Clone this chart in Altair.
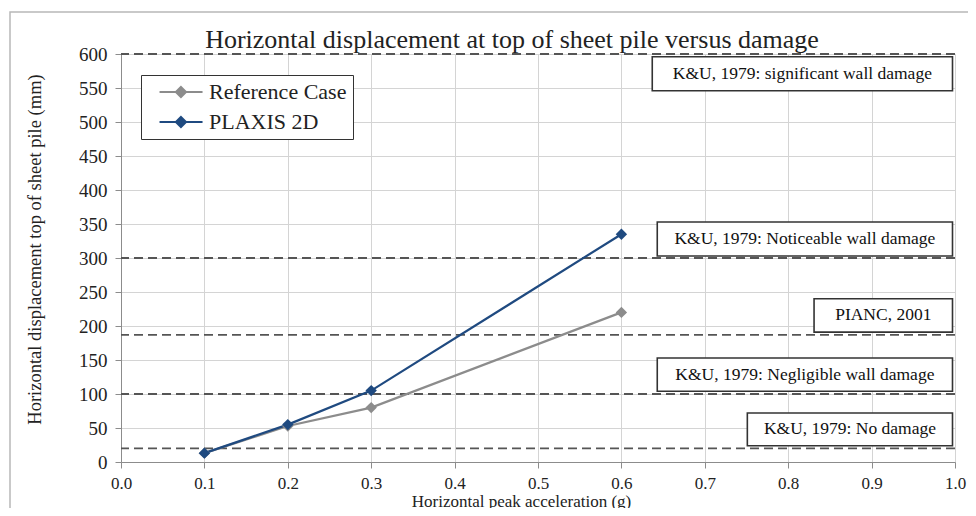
import altair as alt
import pandas as pd

# ---- data ----
accel = [0.1, 0.2, 0.3, 0.6]
reference_case = [13, 53, 80, 220]
plaxis_2d = [13, 55, 105, 335]
series_names = ["Reference Case", "PLAXIS 2D"]
series_colors = ["#8c8c8c", "#1f4a80"]

threshold_values = [600, 300, 187, 100, 20]

ann_labels = [
    "K&U, 1979: significant wall damage",
    "K&U, 1979: Noticeable wall damage",
    "PIANC, 2001",
    "K&U, 1979: Negligible  wall damage",
    "K&U, 1979: No damage",
]
ann_x_left = [0.637, 0.643, 0.831, 0.643, 0.751]
ann_x_right = [0.997, 0.997, 0.997, 0.997, 0.997]
ann_y_top = [596, 353, 240, 153, 72]
ann_y_bottom = [546, 303, 191, 104, 24]

x_ticks = [round(i * 0.1, 1) for i in range(11)]
y_ticks = list(range(0, 601, 50))

# ---- tables ----
rows = []
for name, vals in zip(series_names, [reference_case, plaxis_2d]):
    for a, v in zip(accel, vals):
        rows.append({"series": name, "x": a, "y": v})
df = pd.DataFrame(rows)
df_thr = pd.DataFrame({"y": threshold_values})
df_ann = pd.DataFrame({
    "label": ann_labels,
    "x1": ann_x_left, "x2": ann_x_right,
    "y1": ann_y_top, "y2": ann_y_bottom,
})
df_ann["xm"] = (df_ann["x1"] + df_ann["x2"]) / 2
df_ann["ym"] = (df_ann["y1"] + df_ann["y2"]) / 2

FONT = "Liberation Serif"

xscale = alt.Scale(domain=[0, 1], nice=False, zero=False)
yscale = alt.Scale(domain=[0, 600], nice=False)

x_axis = alt.Axis(
    values=x_ticks, format=".1f", title="Horizontal peak acceleration (g)",
    grid=True, gridColor="#d4d4d4", gridWidth=1,
    domainColor="#8c8c8c", tickColor="#8c8c8c", tickSize=6,
    labelFont=FONT, labelFontSize=17, labelColor="#222", labelPadding=7,
    labelOverlap=False,
    titleFont=FONT, titleFontSize=17, titleFontWeight="normal", titleColor="#222",
    titleY=31, titleX=400, labelFlush=False,
)
y_axis = alt.Axis(
    values=y_ticks, title="Horizontal displacement top of sheet pile (mm)",
    grid=True, gridColor="#d4d4d4", gridWidth=1,
    domainColor="#8c8c8c", tickColor="#8c8c8c", tickSize=6,
    labelFont=FONT, labelFontSize=19, labelColor="#222", labelPadding=8,
    labelOverlap=False,
    titleFont=FONT, titleFontSize=18.5, titleFontWeight="normal", titleColor="#222",
    titleY=195, titleX=-77, labelFlush=False,
)

color_scale = alt.Scale(domain=series_names, range=series_colors)

legend = alt.Legend(
    title=None, orient="none", legendX=20, legendY=21,
    strokeColor="#333", fillColor="white", padding=6,
    labelFont=FONT, labelFontSize=22, labelColor="#222",
    symbolType="M0.18,0L5.24,0M2.7,-0.6L3.3,0L2.7,0.6L2.1,0Z",
    symbolSize=289, symbolStrokeWidth=2, rowPadding=8, labelOffset=40,
)

# decorative outer frame
frame = alt.Chart(pd.DataFrame({"a": [0]})).mark_rect(
    fill=None, stroke="#b8b8b8", strokeWidth=1.5
).encode(
    x=alt.value(-111), x2=alt.value(880), y=alt.value(-42), y2=alt.value(480)
)

thr = alt.Chart(df_thr).mark_rule(
    color="#555", strokeWidth=1.8, strokeDash=[9, 5]
).encode(
    y=alt.Y("y:Q", scale=yscale, axis=y_axis),
)

lines = alt.Chart(df).mark_line(strokeWidth=2.2).encode(
    x=alt.X("x:Q", scale=xscale, axis=x_axis),
    y=alt.Y("y:Q", scale=yscale, axis=y_axis),
    color=alt.Color("series:N", scale=color_scale, legend=legend, sort=series_names),
)
points = alt.Chart(df).mark_point(shape="diamond", filled=True, size=130, opacity=1).encode(
    x=alt.X("x:Q", scale=xscale, axis=x_axis),
    y=alt.Y("y:Q", scale=yscale, axis=y_axis),
    color=alt.Color("series:N", scale=color_scale, legend=legend, sort=series_names),
)

boxes = alt.Chart(df_ann).mark_rect(fill="white", stroke="#333", strokeWidth=1.6).encode(
    x=alt.X("x1:Q", scale=xscale, axis=x_axis), x2="x2:Q",
    y=alt.Y("y1:Q", scale=yscale, axis=y_axis), y2="y2:Q",
)
box_text = alt.Chart(df_ann).mark_text(
    font=FONT, fontSize=17.5, color="#111", align="center", baseline="middle"
).encode(
    x=alt.X("xm:Q", scale=xscale, axis=x_axis),
    y=alt.Y("ym:Q", scale=yscale, axis=y_axis),
    text="label:N",
)

chart = alt.layer(frame, thr, lines, points, boxes, box_text).properties(
    width=834, height=408,
    autosize=alt.AutoSizeParams(type="none"),
    padding={"left": 113, "top": 46, "right": 13, "bottom": 46},
    title=alt.TitleParams(
        "Horizontal displacement at top of sheet pile versus damage",
        font=FONT, fontSize=26, fontWeight="normal", color="#222",
        anchor="middle", dx=-26, offset=4, dy=46,
    ),
).configure_view(stroke=None).configure(background="white")

chart.save("out.html", embed_options={"renderer": "svg", "actions": False})
